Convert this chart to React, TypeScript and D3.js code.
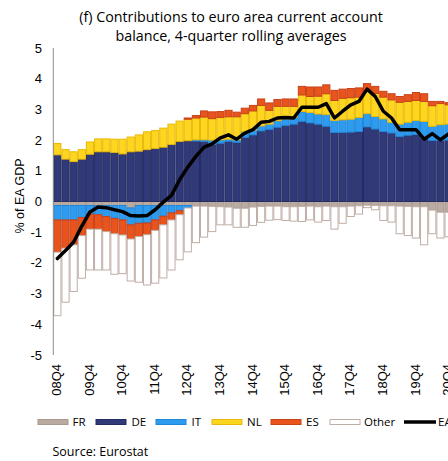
import React from "react";
import * as d3 from "d3";

const quarters = [
  "08Q4","09Q1","09Q2","09Q3","09Q4","10Q1","10Q2","10Q3","10Q4","11Q1","11Q2","11Q3","11Q4",
  "12Q1","12Q2","12Q3","12Q4","13Q1","13Q2","13Q3","13Q4","14Q1","14Q2","14Q3","14Q4",
  "15Q1","15Q2","15Q3","15Q4","16Q1","16Q2","16Q3","16Q4","17Q1","17Q2","17Q3","17Q4",
  "18Q1","18Q2","18Q3","18Q4","19Q1","19Q2","19Q3","19Q4","20Q1","20Q2","20Q3","20Q4",
];

const FR = [
  -0.13,-0.13,-0.13,-0.13,-0.13,-0.13,-0.13,-0.13,-0.13,-0.21,-0.13,-0.13,-0.13,-0.13,-0.13,-0.13,-0.13,
  -0.15,-0.15,-0.16,-0.17,-0.18,-0.22,-0.22,-0.18,-0.16,-0.15,-0.15,-0.17,-0.17,-0.16,-0.15,-0.17,
  -0.15,-0.17,-0.17,-0.15,-0.14,-0.12,-0.13,-0.14,-0.14,-0.15,-0.16,-0.17,-0.17,-0.28,-0.35,-0.35,
];
const DE = [
  1.52,1.38,1.30,1.38,1.54,1.62,1.62,1.60,1.55,1.62,1.64,1.69,1.73,1.77,1.86,1.96,1.98,
  1.97,1.96,1.86,1.90,1.96,1.93,2.09,2.17,2.30,2.35,2.42,2.48,2.52,2.61,2.56,2.52,
  2.45,2.25,2.25,2.26,2.28,2.43,2.36,2.28,2.23,2.12,2.16,2.18,2.07,1.99,1.99,2.00,
];
const IT = [
  -0.47,-0.47,-0.47,-0.39,-0.28,-0.30,-0.36,-0.42,-0.47,-0.55,-0.58,-0.57,-0.47,-0.35,-0.24,-0.17,-0.08,
  0.04,0.05,0.14,0.11,0.07,0.08,0.18,0.16,0.16,0.17,0.21,0.21,0.23,0.32,0.34,0.33,
  0.38,0.39,0.41,0.42,0.46,0.43,0.41,0.41,0.35,0.40,0.42,0.46,0.54,0.46,0.51,0.52,
];
const NL = [
  0.37,0.31,0.32,0.31,0.40,0.42,0.42,0.43,0.48,0.48,0.53,0.58,0.58,0.62,0.66,0.66,0.70,
  0.71,0.74,0.70,0.73,0.73,0.75,0.59,0.62,0.67,0.45,0.47,0.41,0.35,0.54,0.52,0.58,
  0.68,0.65,0.70,0.70,0.66,0.73,0.75,0.71,0.73,0.71,0.68,0.65,0.65,0.67,0.69,0.63,
];
const ES = [
  -1.05,-0.92,-0.81,-0.59,-0.49,-0.47,-0.49,-0.50,-0.49,-0.46,-0.43,-0.38,-0.34,-0.28,-0.23,-0.13,0.04,
  0.08,0.20,0.22,0.19,0.21,0.15,0.18,0.18,0.21,0.24,0.22,0.24,0.24,0.28,0.31,0.30,
  0.29,0.33,0.30,0.30,0.30,0.25,0.23,0.19,0.20,0.19,0.22,0.26,0.25,0.14,0.07,0.07,
];
const Other = [
  -2.07,-1.76,-1.52,-1.39,-1.33,-1.33,-1.25,-1.32,-1.26,-1.37,-1.49,-1.64,-1.72,-1.73,-1.63,-1.47,-1.43,
  -1.19,-1.01,-0.82,-0.59,-0.58,-0.62,-0.62,-0.60,-0.52,-0.46,-0.44,-0.45,-0.47,-0.49,-0.45,-0.50,
  -0.47,-0.73,-0.54,-0.34,-0.27,-0.08,-0.14,-0.48,-0.53,-0.90,-0.95,-1.02,-1.24,-0.77,-0.84,-0.80,
];
const EA = [
  -1.86,-1.60,-1.32,-0.80,-0.34,-0.18,-0.20,-0.27,-0.33,-0.46,-0.47,-0.46,-0.27,-0.02,0.20,0.71,1.12,
  1.47,1.77,1.88,2.07,2.17,2.03,2.23,2.34,2.58,2.61,2.72,2.74,2.72,3.07,3.07,3.07,
  3.19,2.72,2.94,3.15,3.26,3.66,3.42,2.94,2.72,2.34,2.34,2.34,2.03,2.21,2.01,2.20,
];

const yTicks = [-5, -4, -3, -2, -1, 0, 1, 2, 3, 4, 5];
const seriesKeys = ["FR", "DE", "IT", "NL", "ES", "Other"];
const seriesData: Record<string, number[]> = { FR, DE, IT, NL, ES, Other };

const fills: Record<string, string> = {
  FR: "#b9aaa2", DE: "#313a78", IT: "#2d9bf0", NL: "#ffd61f", ES: "#e8541c", Other: "#ffffff",
};
const strokes: Record<string, string> = {
  FR: "#a8988f", DE: "#262c62", IT: "#2386d6", NL: "#e8b90a", ES: "#c8421a", Other: "#bfaea6",
};

const FONT = "'Liberation Sans', Arial, sans-serif";
const TFONT = "'Open Sans', 'Noto Sans', sans-serif";

export default function App() {
  const W = 448, H = 461;
  const x0 = 53.3, step = 8.15;
  const x = d3.scaleBand<string>().domain(quarters).range([x0, x0 + step * quarters.length]).paddingInner(0).paddingOuter(0);
  const y = d3.scaleLinear().domain([-5, 5]).range([355, 48]);

  const rows = quarters.map((q, i) => {
    const r: any = { q };
    seriesKeys.forEach((k) => (r[k] = seriesData[k][i]));
    return r;
  });
  const stacked = d3.stack<any>().keys(seriesKeys).offset(d3.stackOffsetDiverging)(rows);

  const line = d3.line<number>()
    .x((_, i) => (x(quarters[i]) as number) + x.bandwidth() / 2)
    .y((d) => y(d));

  const legendItems = [
    { k: "FR", sx: 38, tx: 72.5 },
    { k: "DE", sx: 96, tx: 131.5 },
    { k: "IT", sx: 156, tx: 191.5 },
    { k: "NL", sx: 212, tx: 247 },
    { k: "ES", sx: 271, tx: 306 },
    { k: "Other", sx: 330, tx: 364 },
  ];

  return (
    <svg width={W} height={H} style={{ position: "absolute", left: 0, top: 0, background: "#fff" }}>
      <text x={231} y={22} textAnchor="middle" fontFamily={TFONT} fontSize={14.3} fill="#000">
        (f) Contributions to euro area current account
      </text>
      <text x={231} y={41} textAnchor="middle" fontFamily={TFONT} fontSize={14.3} fill="#000">
        balance, 4-quarter rolling averages
      </text>

      {stacked.map((s) => (
        <g key={s.key}>
          {s.map((d, i) => {
            const top = y(Math.max(d[0], d[1]));
            const bot = y(Math.min(d[0], d[1]));
            if (Math.abs(d[1] - d[0]) < 1e-9) return null;
            return (
              <rect
                key={i}
                x={(x(quarters[i]) as number) + 0.5}
                y={top}
                width={x.bandwidth() - 1}
                height={Math.max(0, bot - top)}
                fill={fills[s.key]}
                stroke={strokes[s.key]}
                strokeWidth={1}
              />
            );
          })}
        </g>
      ))}

      <path d={line(EA) || ""} fill="none" stroke="#000" strokeWidth={3.5} strokeLinejoin="round" strokeLinecap="round" />

      <line x1={x0} x2={x0} y1={48} y2={355} stroke="#8c8c8c" strokeWidth={1} />
      {yTicks.map((t) => (
        <text key={t} x={42} y={y(t)} dy="0.35em" textAnchor="end" fontFamily={FONT} fontSize={13} fill="#000">
          {t}
        </text>
      ))}
      <text
        transform={`translate(24, 196) rotate(-90)`}
        textAnchor="middle"
        fontFamily={FONT}
        fontSize={12.5}
        fill="#000"
      >
        % of EA GDP
      </text>

      {quarters.filter((q) => q.endsWith("Q4")).map((q) => {
        const cx = (x(q) as number) + x.bandwidth() / 2;
        return (
          <text
            key={q}
            transform={`translate(${cx - 1}, 364) rotate(-90)`}
            textAnchor="end"
            dy="0.35em"
            fontFamily={FONT}
            fontSize={13}
            fill="#000"
          >
            {q}
          </text>
        );
      })}

      {legendItems.map((it) => (
        <g key={it.k}>
          <rect x={it.sx} y={419.5} width={30} height={5} fill={fills[it.k]} stroke={strokes[it.k]} strokeWidth={1} />
          <text x={it.tx} y={426} fontFamily={TFONT} fontSize={11.5} fill="#000">
            {it.k}
          </text>
        </g>
      ))}
      <line x1={404} x2={436} y1={422} y2={422} stroke="#000" strokeWidth={3.5} />
      <text x={438} y={426} fontFamily={TFONT} fontSize={11.5} fill="#000">EA</text>

      <text x={52.5} y={456} fontFamily={TFONT} fontSize={12.5} fill="#000">Source: Eurostat</text>
    </svg>
  );
}
